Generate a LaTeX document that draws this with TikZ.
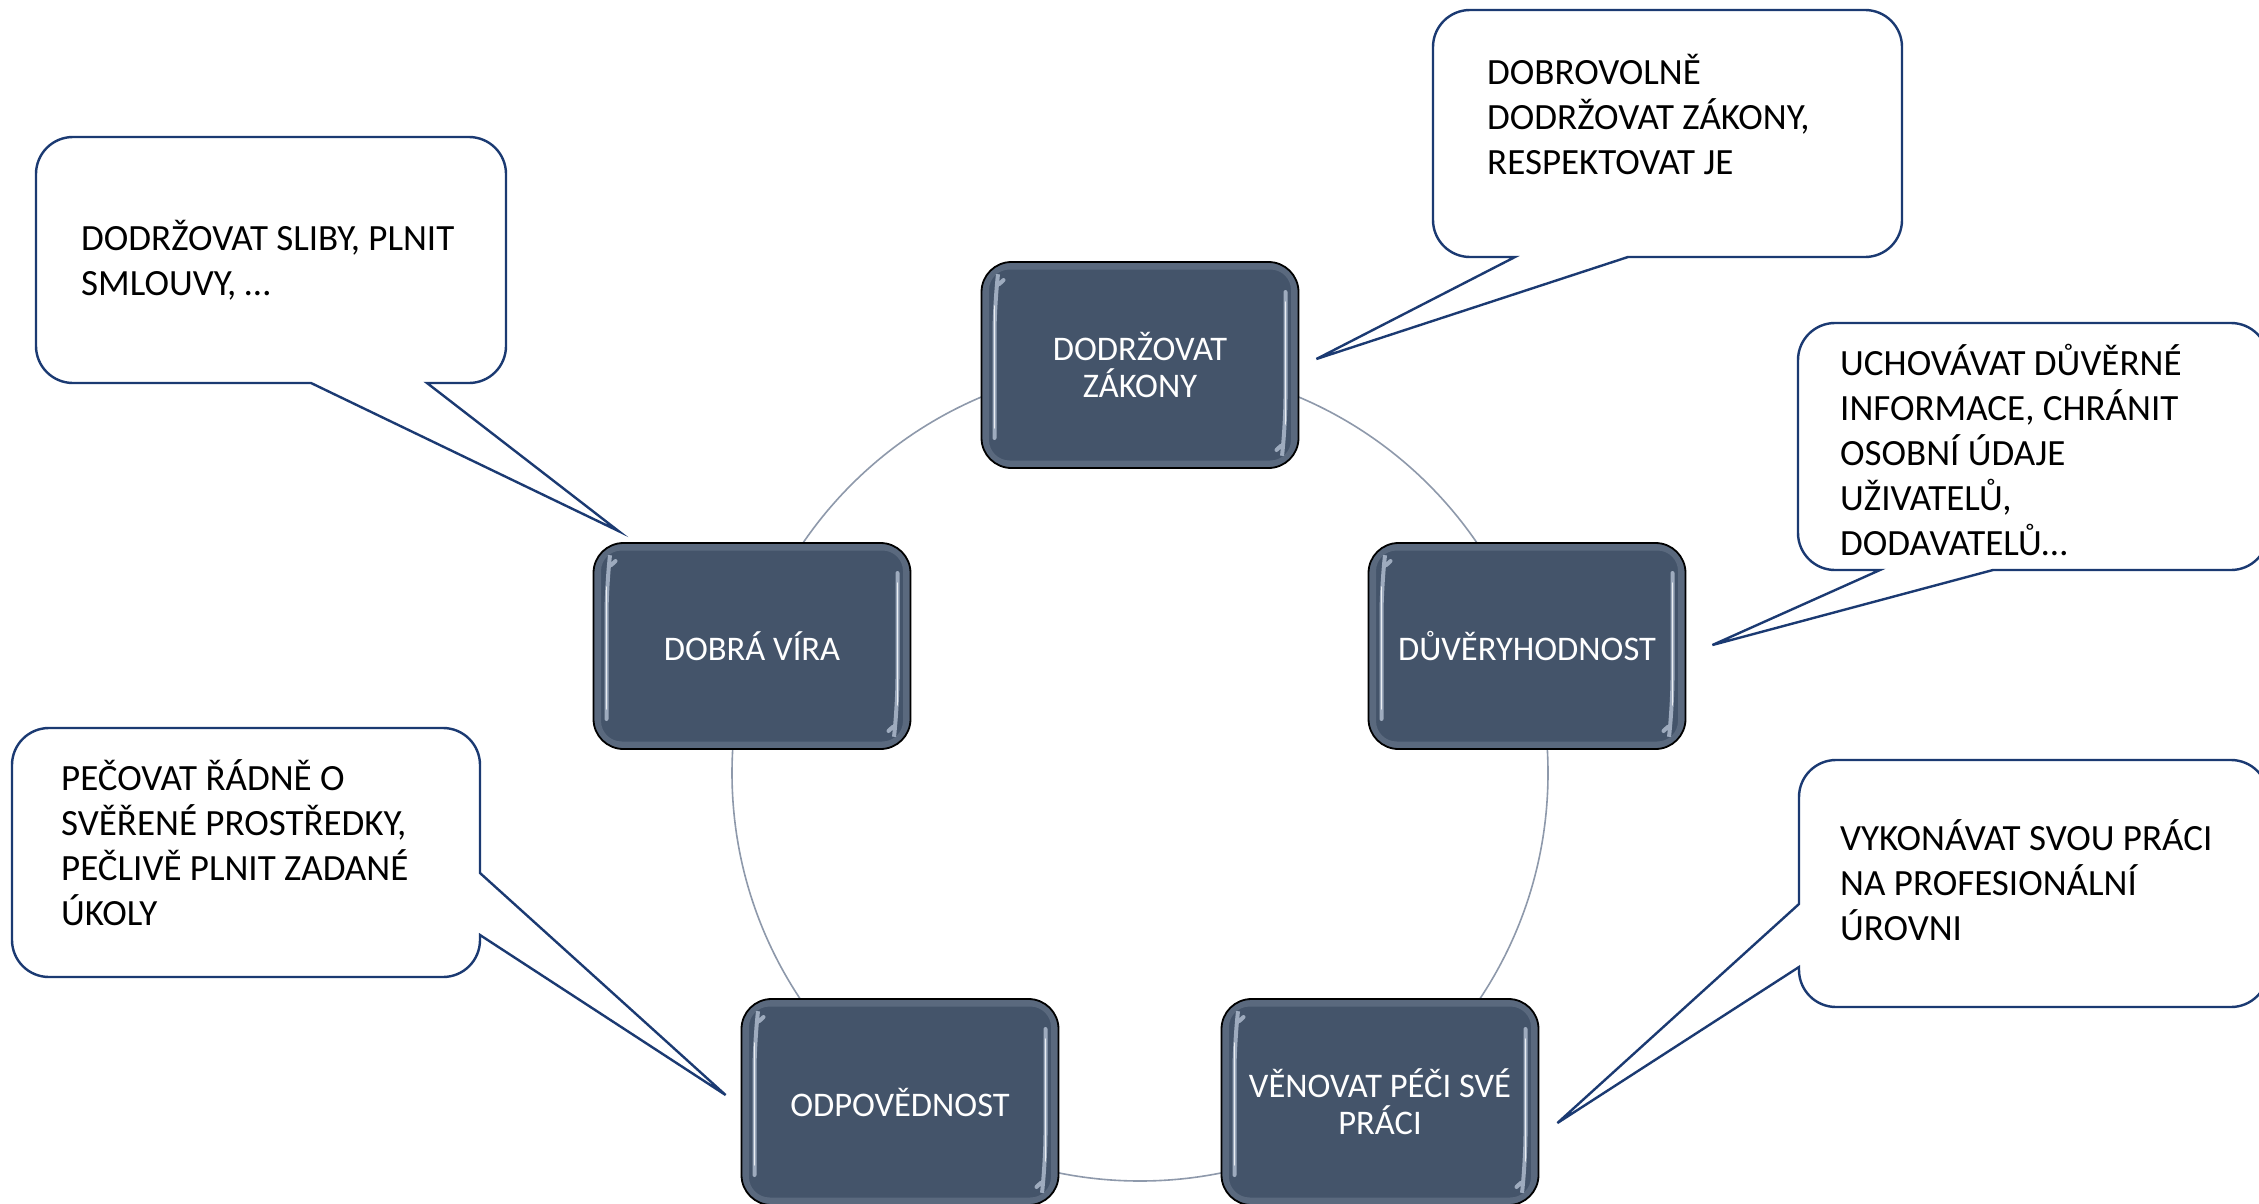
\documentclass[tikz,border=0pt]{standalone}
\usepackage{fontspec}
\setmainfont{Carlito}
\definecolor{nodefill}{HTML}{44546A}
\definecolor{bubbleline}{HTML}{1B3A72}
\definecolor{ringcol}{HTML}{8E99AB}
\definecolor{hilite}{HTML}{AEBBCD}
\tikzset{
  vnode/.style={draw=black, line width=1.8pt, fill=nodefill, rounded corners=30pt,
    minimum width=317pt, minimum height=206pt, inner sep=0pt, align=center,
    text=white, font=\fontsize{34.5}{37}\selectfont,
    path picture={
      \draw[hilite!60!nodefill, line width=7pt, opacity=0.35, rounded corners=24pt]
        ([xshift=4pt,yshift=-4pt]path picture bounding box.north west) rectangle
        ([xshift=-4pt,yshift=4pt]path picture bounding box.south east);
      \draw[hilite, line width=4pt, line cap=round, opacity=0.85]
        ([xshift=22pt,yshift=-18pt]path picture bounding box.north west)
        .. controls ([xshift=15pt,yshift=-25pt]path picture bounding box.north west) ..
        ([xshift=13pt,yshift=-42pt]path picture bounding box.north west)
        -- ([xshift=13pt,yshift=30pt]path picture bounding box.south west);
      \draw[white, line width=1.2pt, line cap=round, opacity=0.8]
        ([xshift=13pt,yshift=-44pt]path picture bounding box.north west)
        -- ([xshift=13pt,yshift=40pt]path picture bounding box.south west);
      \draw[hilite, line width=4pt, line cap=round, opacity=0.85]
        ([xshift=-22pt,yshift=18pt]path picture bounding box.south east)
        .. controls ([xshift=-15pt,yshift=25pt]path picture bounding box.south east) ..
        ([xshift=-13pt,yshift=42pt]path picture bounding box.south east)
        -- ([xshift=-13pt,yshift=-30pt]path picture bounding box.north east);
      \draw[white, line width=1.2pt, line cap=round, opacity=0.8]
        ([xshift=-13pt,yshift=44pt]path picture bounding box.south east)
        -- ([xshift=-13pt,yshift=-40pt]path picture bounding box.north east);
    }},
  bubble/.style={draw=bubbleline, line width=2.4pt, fill=white, line join=miter},
  btext/.style={anchor=base west, inner sep=0pt, align=left, text=black,
    font=\fontsize{37}{45}\selectfont},
  ring/.style={draw=ringcol, line width=1.6pt}
}
% bubble with tail on the bottom edge: l t r b x1 x2 tip
\newcommand\calloutbottom[7]{%
  \draw[bubble] (#5,-#4) -- (#7) -- (#6,-#4) -- ({#3-37},-#4)
    arc[start angle=-90,end angle=0,radius=37pt] -- (#3,{-#2-37})
    arc[start angle=0,end angle=90,radius=37pt] -- ({#1+37},-#2)
    arc[start angle=90,end angle=180,radius=37pt] -- (#1,{-#4+37})
    arc[start angle=180,end angle=270,radius=37pt] -- cycle;}
% bubble with tail on the left edge: l t r b y1 y2 tip
\newcommand\calloutleft[7]{%
  \draw[bubble] (#1,-#5) -- (#7) -- (#1,-#6) -- (#1,{-#4+37})
    arc[start angle=180,end angle=270,radius=37pt] -- ({#3-37},-#4)
    arc[start angle=270,end angle=360,radius=37pt] -- (#3,{-#2-37})
    arc[start angle=0,end angle=90,radius=37pt] -- ({#1+37},-#2)
    arc[start angle=90,end angle=180,radius=37pt] -- cycle;}
% bubble with tail on the right edge: l t r b y1 y2 tip
\newcommand\calloutright[7]{%
  \draw[bubble] (#3,-#5) -- (#7) -- (#3,-#6) -- (#3,{-#4+37})
    arc[start angle=0,end angle=-90,radius=37pt] -- ({#1+37},-#4)
    arc[start angle=-90,end angle=-180,radius=37pt] -- (#1,{-#2-37})
    arc[start angle=180,end angle=90,radius=37pt] -- ({#3-37},-#2)
    arc[start angle=90,end angle=0,radius=37pt] -- cycle;}
\begin{document}
\begin{tikzpicture}[x=1pt,y=1pt]
\useasboundingbox (0,0) rectangle (2259,-1204);
\fill[white] (0,0) rectangle (2259,-1204);
% ring behind the nodes
\coordinate (ringc) at (1140,-773);
\draw[ring] (ringc) circle[radius=408pt];
% main nodes
\node[vnode] (zak) at (1140,-365) {DODRŽOVAT\\ZÁKONY};
\node[vnode] (duv) at (1527,-646) {DŮVĚRYHODNOST};
\node[vnode] (vira) at (752,-646) {DOBRÁ VÍRA};
\node[vnode] (ven) at (1380,-1102) {VĚNOVAT PÉČI SVÉ\\PRÁCI};
\node[vnode] (odp) at (900,-1102) {ODPOVĚDNOST};
% tips of the callouts
\coordinate (tip1) at ([xshift=17pt,yshift=6pt]zak.east);
\coordinate (tip2) at ([xshift=26pt,yshift=1pt]duv.east);
\coordinate (tip3) at ([xshift=18pt,yshift=-21pt]ven.east);
\coordinate (tip4) at ([xshift=26pt,yshift=11pt]vira.north west);
\coordinate (tip5) at ([xshift=-15pt,yshift=7pt]odp.west);
% callouts (text anchored at the baseline of the last line)
\calloutbottom{1433}{10}{1902}{257}{1515}{1628}{tip1}
\node[btext] (c1) at (1487,-175) {DOBROVOLNĚ\\DODRŽOVAT ZÁKONY,\\RESPEKTOVAT JE};
\calloutbottom{1798}{323}{2268}{570}{1880}{1993}{tip2}
\node[btext] (c2) at (1840,-555) {UCHOVÁVAT DŮVĚRNÉ\\INFORMACE, CHRÁNIT\\OSOBNÍ ÚDAJE\\UŽIVATELŮ,\\DODAVATELŮ…};
\calloutleft{1799}{760}{2268}{1007}{904}{967}{tip3}
\node[btext] (c3) at (1840,-940) {VYKONÁVAT SVOU PRÁCI\\NA PROFESIONÁLNÍ\\ÚROVNI};
\calloutbottom{36}{137}{506}{383}{311}{427}{tip4}
\node[btext] (c4) at (81,-295) {DODRŽOVAT SLIBY, PLNIT\\SMLOUVY, …};
\calloutright{12}{728}{480}{977}{873}{935}{tip5}
\node[btext] (c5) at (61,-925) {PEČOVAT ŘÁDNĚ O\\SVĚŘENÉ PROSTŘEDKY,\\PEČLIVĚ PLNIT ZADANÉ\\ÚKOLY};
\end{tikzpicture}
\end{document}
